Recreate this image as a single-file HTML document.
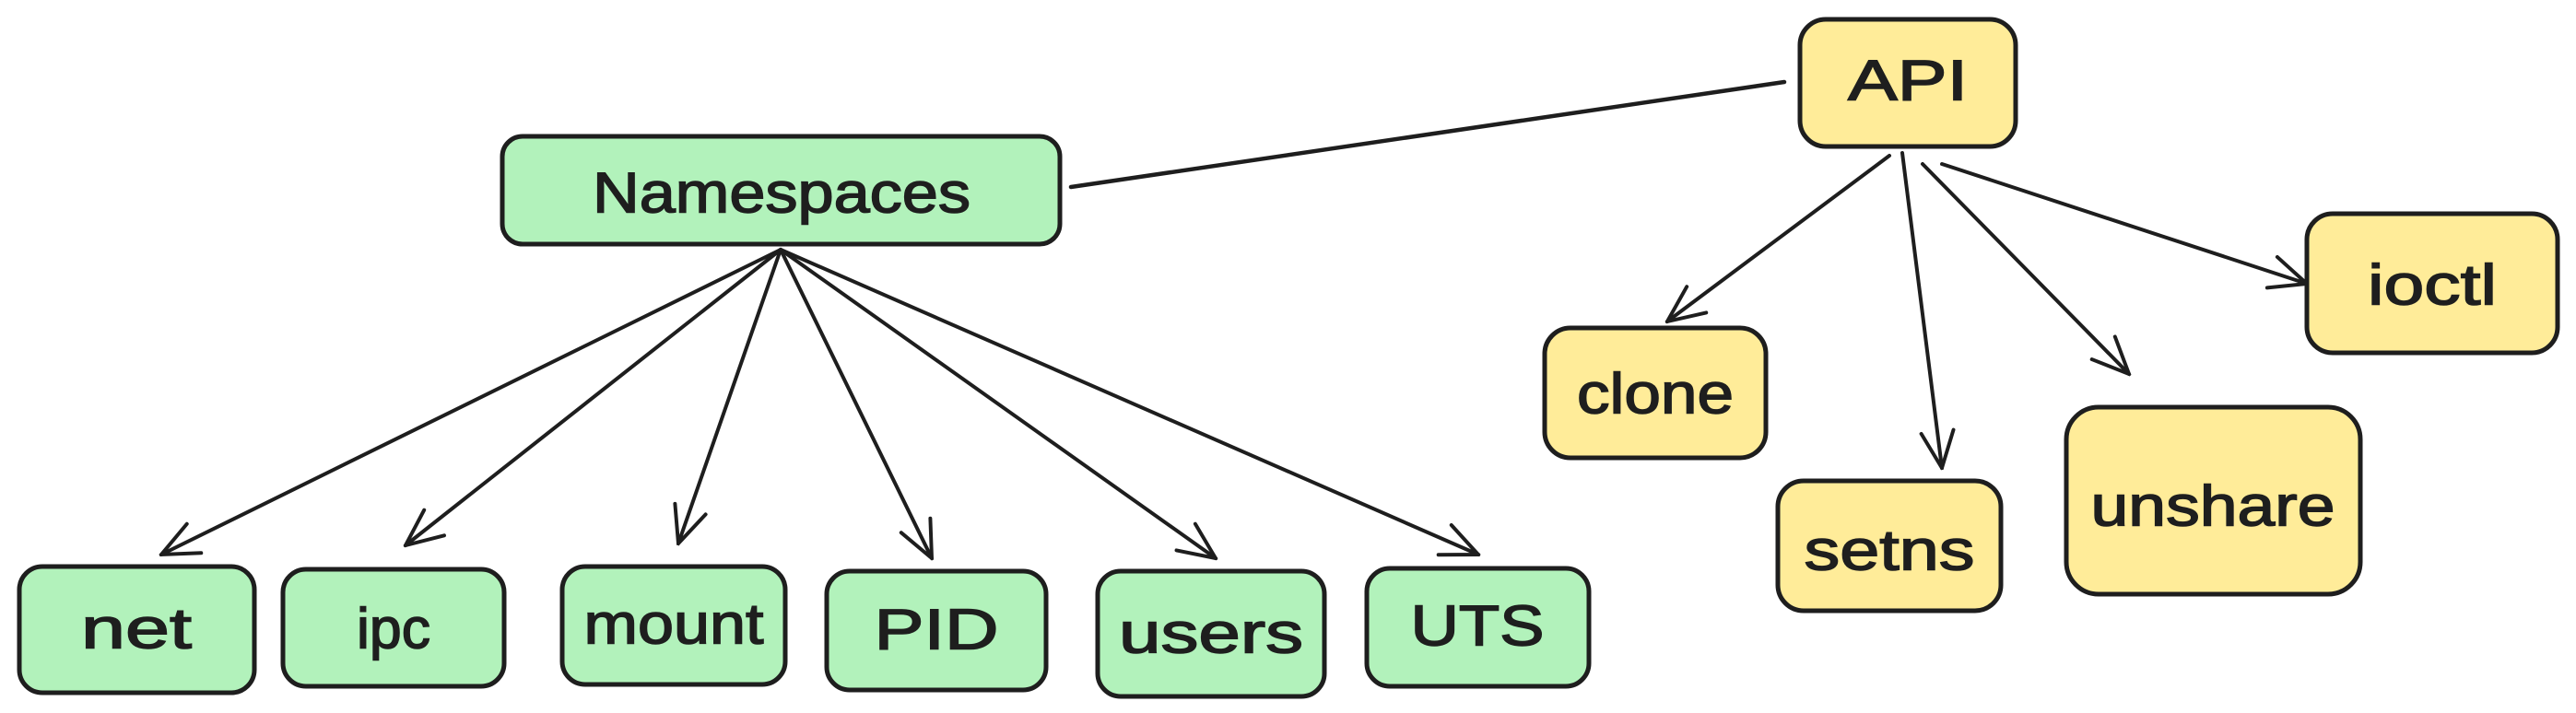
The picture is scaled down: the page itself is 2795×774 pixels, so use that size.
<!DOCTYPE html>
<html><head><meta charset="utf-8"><style>
html,body{margin:0;padding:0;background:#fff;}
svg{display:block}
text{font-family:"Liberation Sans",sans-serif;font-size:62px;fill:#1e1e1e;stroke:#1e1e1e;stroke-width:1.5;text-anchor:middle;dominant-baseline:central}
</style></head><body>
<svg width="2795" height="774" viewBox="0 0 2795 774" xmlns="http://www.w3.org/2000/svg">
<defs>
<marker id="a" viewBox="0 0 20 20" refX="19" refY="10" markerWidth="44" markerHeight="44" markerUnits="userSpaceOnUse" orient="auto">
<path d="M1,2 L19,10 L1,18" fill="none" stroke="#1e1e1e" stroke-width="1.8" stroke-linecap="round"/>
</marker>
</defs>
<g stroke="#1e1e1e" stroke-width="4.5" fill="none" stroke-linecap="round">
<line x1="1162" y1="203" x2="1936" y2="89"/>
<g marker-end="url(#a)" stroke-width="4">
<line x1="847" y1="271" x2="175" y2="602"/>
<line x1="847" y1="271" x2="440" y2="592"/>
<line x1="847" y1="271" x2="736" y2="590"/>
<line x1="847" y1="271" x2="1011" y2="606"/>
<line x1="847" y1="271" x2="1319" y2="606"/>
<line x1="847" y1="271" x2="1604" y2="602"/>
<line x1="2050" y1="169" x2="1809" y2="349"/>
<line x1="2064" y1="166" x2="2107" y2="508"/>
<line x1="2086" y1="178" x2="2310" y2="406"/>
<line x1="2107" y1="178" x2="2503" y2="308"/>
</g>
</g>
<g stroke="#1e1e1e" stroke-width="5">
<rect x="545" y="148" width="605" height="117" rx="22" fill="#b2f2bb"/>
<rect x="21" y="615" width="255" height="137" rx="25" fill="#b2f2bb"/>
<rect x="307" y="618" width="240" height="127" rx="25" fill="#b2f2bb"/>
<rect x="610" y="615" width="242" height="128" rx="25" fill="#b2f2bb"/>
<rect x="897" y="620" width="238" height="129" rx="25" fill="#b2f2bb"/>
<rect x="1191" y="620" width="246" height="136" rx="25" fill="#b2f2bb"/>
<rect x="1483" y="617" width="241" height="128" rx="25" fill="#b2f2bb"/>
<rect x="1953" y="21" width="234" height="138" rx="28" fill="#ffec99"/>
<rect x="1676" y="356" width="240" height="141" rx="28" fill="#ffec99"/>
<rect x="1929" y="522" width="242" height="141" rx="28" fill="#ffec99"/>
<rect x="2242" y="442" width="319" height="203" rx="35" fill="#ffec99"/>
<rect x="2503" y="232" width="272" height="151" rx="28" fill="#ffec99"/>
</g>
<text x="848" y="210" textLength="410" lengthAdjust="spacingAndGlyphs">Namespaces</text>
<text x="148" y="683" textLength="120" lengthAdjust="spacingAndGlyphs">net</text>
<text x="427" y="683" textLength="80" lengthAdjust="spacingAndGlyphs">ipc</text>
<text x="731" y="678" textLength="195" lengthAdjust="spacingAndGlyphs">mount</text>
<text x="1016" y="684" textLength="135" lengthAdjust="spacingAndGlyphs">PID</text>
<text x="1314" y="688" textLength="200" lengthAdjust="spacingAndGlyphs">users</text>
<text x="1603" y="680" textLength="145" lengthAdjust="spacingAndGlyphs">UTS</text>
<text x="2070" y="88" textLength="130" lengthAdjust="spacingAndGlyphs">API</text>
<text x="1796" y="428" textLength="170" lengthAdjust="spacingAndGlyphs">clone</text>
<text x="2050" y="598" textLength="185" lengthAdjust="spacingAndGlyphs">setns</text>
<text x="2401" y="550" textLength="265" lengthAdjust="spacingAndGlyphs">unshare</text>
<text x="2639" y="310" textLength="140" lengthAdjust="spacingAndGlyphs">ioctl</text>
</svg>
</body></html>
